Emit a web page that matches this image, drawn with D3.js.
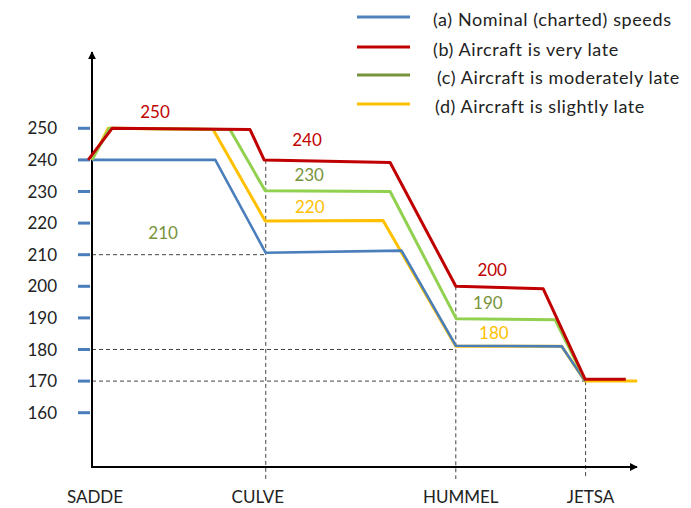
<!DOCTYPE html>
<html>
<head>
<meta charset="utf-8">
<script src="https://cdn.jsdelivr.net/npm/d3@7"></script>
<style>
  body { margin: 0; background: #fff; }
  text { font-family: Lato, "Open Sans", sans-serif; }
</style>
</head>
<body>
<svg width="691" height="508"></svg>
<script>
// waypoints along the route (distance in arbitrary units from SADDE)
var waypoints = ["SADDE", "CULVE", "HUMMEL", "JETSA"];
var waypointDist = [0, 32.0, 67.0, 90.9];

var speedTicks = [160, 170, 180, 190, 200, 210, 220, 230, 240, 250];

// (a) nominal
var nominalDist  = [0, 22.7, 32.0, 57.0, 67.0, 86.5, 90.8];
var nominalSpeed = [240, 240, 210.6, 211.3, 181.2, 181, 170];
// (b) very late
var veryLateDist  = [-0.7, 3.7, 29.1, 31.7, 54.9, 67.0, 83.1, 90.8, 98.3];
var veryLateSpeed = [240, 250, 249.6, 240, 239.2, 200, 199.2, 170.6, 170.6];
// (c) moderately late
var modLateDist  = [0, 3.2, 25.4, 31.9, 54.9, 67.1, 85.3, 90.8];
var modLateSpeed = [240, 250, 249.6, 230.2, 230, 189.7, 189.4, 170.4];
// (d) slightly late
var slightLateDist  = [0, 3.0, 22.3, 31.9, 53.6, 67.0, 86.5, 90.8, 100.4];
var slightLateSpeed = [240, 250, 249.6, 220.7, 220.8, 181, 181, 170, 170];

var legendLabels = ["(a) Nominal (charted) speeds", "(b) Aircraft is very late",
                    "(c) Aircraft is moderately late", "(d) Aircraft is slightly late"];

// speed annotations: text, series index, anchor (dist, speed)
var noteText   = ["250", "240", "230", "220", "210", "200", "190", "180"];
var noteSeries = [1, 1, 2, 3, 2, 1, 2, 3];
var noteDist   = [11.6, 39.6, 40.0, 40.1, 13.1, 73.7, 72.9, 74.0];
var noteSpeed  = [255.2, 246.3, 235.2, 225.1, 216.9, 205.2, 194.7, 185.2];

// dashed guides: speed level -> waypoint index
var guideSpeed = [210, 180, 170];
var guideWp = [1, 2, 3];
var vGuideTop = [240, 200, 170];

var lineColors  = ["#4a7ebb", "#c00000", "#92d050", "#ffc000"];
var legendColors = ["#4f81bd", "#c00000", "#77933c", "#ffc000"];
var textColors  = ["#4a7ebb", "#c00000", "#77933c", "#ffc000"];

var svg = d3.select("svg");

var x = d3.scaleLinear().domain([0, 100]).range([92, 635]);
var y = d3.scaleLinear().domain([160, 250]).range([412.7, 128.3]);

var axisY = 467;

var defs = svg.append("defs");
defs.append("marker")
  .attr("id", "arrow")
  .attr("viewBox", "0 0 10 10")
  .attr("refX", 9).attr("refY", 5)
  .attr("markerWidth", 4).attr("markerHeight", 4)
  .attr("orient", "auto")
  .append("path")
  .attr("d", "M0,0 L10,5 L0,10 z")
  .attr("fill", "#000");

// dashed guides
var gGuide = svg.append("g")
  .attr("stroke", "#444")
  .attr("stroke-width", 1)
  .attr("stroke-dasharray", "4,3");

guideSpeed.forEach(function(s, i) {
  gGuide.append("line")
    .attr("x1", x(0)).attr("x2", x(waypointDist[guideWp[i]]))
    .attr("y1", y(s)).attr("y2", y(s));
});
waypointDist.slice(1).forEach(function(d, i) {
  gGuide.append("line")
    .attr("x1", x(d)).attr("x2", x(d))
    .attr("y1", y(vGuideTop[i])).attr("y2", 479);
});

// axes
svg.append("line")
  .attr("x1", x(0)).attr("y1", axisY)
  .attr("x2", x(0)).attr("y2", 52)
  .attr("stroke", "#000").attr("stroke-width", 2)
  .attr("marker-end", "url(#arrow)");
svg.append("line")
  .attr("x1", x(0) - 1).attr("y1", axisY)
  .attr("x2", 637).attr("y2", axisY)
  .attr("stroke", "#000").attr("stroke-width", 2)
  .attr("marker-end", "url(#arrow)");

// speed ticks (blue dashes) and labels
svg.append("g").selectAll("line")
  .data(speedTicks)
  .enter().append("line")
  .attr("x1", 78).attr("x2", 90)
  .attr("y1", function(d) { return y(d); })
  .attr("y2", function(d) { return y(d); })
  .attr("stroke", "#4a7ebb").attr("stroke-width", 3);

svg.append("g").selectAll("text")
  .data(speedTicks)
  .enter().append("text")
  .attr("x", 57)
  .attr("y", function(d) { return y(d); })
  .attr("dy", "0.36em")
  .attr("text-anchor", "end")
  .attr("font-size", 17)
  .attr("fill", "#222")
  .text(function(d) { return d; });

// waypoint labels
var wpLabelShift = [3, -8, 5, 5];
svg.append("g").selectAll("text")
  .data(waypoints)
  .enter().append("text")
  .attr("x", function(d, i) { return x(waypointDist[i]) + wpLabelShift[i]; })
  .attr("y", 503)
  .attr("text-anchor", "middle")
  .attr("font-size", 17)
  .attr("fill", "#222")
  .text(function(d) { return d; });

// speed profiles
var line = d3.line()
  .x(function(d) { return x(d[0]); })
  .y(function(d) { return y(d[1]); });

var series = [
  d3.zip(nominalDist, nominalSpeed),
  d3.zip(veryLateDist, veryLateSpeed),
  d3.zip(modLateDist, modLateSpeed),
  d3.zip(slightLateDist, slightLateSpeed)
];
var drawOrder = [3, 0, 2, 1];
drawOrder.forEach(function(i) {
  svg.append("path")
    .datum(series[i])
    .attr("d", line)
    .attr("fill", "none")
    .attr("stroke", lineColors[i])
    .attr("stroke-width", i == 0 ? 2.6 : 3)
    .attr("stroke-linejoin", "round");
});

// annotations
svg.append("g").selectAll("text")
  .data(noteText)
  .enter().append("text")
  .attr("x", function(d, i) { return x(noteDist[i]); })
  .attr("y", function(d, i) { return y(noteSpeed[i]); })
  .attr("dy", "0.36em")
  .attr("text-anchor", "middle")
  .attr("font-size", 17)
  .attr("fill", function(d, i) { return textColors[noteSeries[i]]; })
  .text(function(d) { return d; });

// legend
var legY = [17, 47, 75, 104];
var legTextX = [433, 433, 437, 435];
var leg = svg.append("g");
legendLabels.forEach(function(t, i) {
  leg.append("line")
    .attr("x1", 357).attr("x2", 410)
    .attr("y1", legY[i]).attr("y2", legY[i])
    .attr("stroke", legendColors[i]).attr("stroke-width", 3);
  leg.append("text")
    .attr("x", legTextX[i])
    .attr("y", legY[i] + 3)
    .attr("dy", "0.36em")
    .attr("font-size", 18)
    .attr("letter-spacing", 0.6)
    .attr("fill", "#222")
    .text(t);
});
</script>
</body>
</html>
